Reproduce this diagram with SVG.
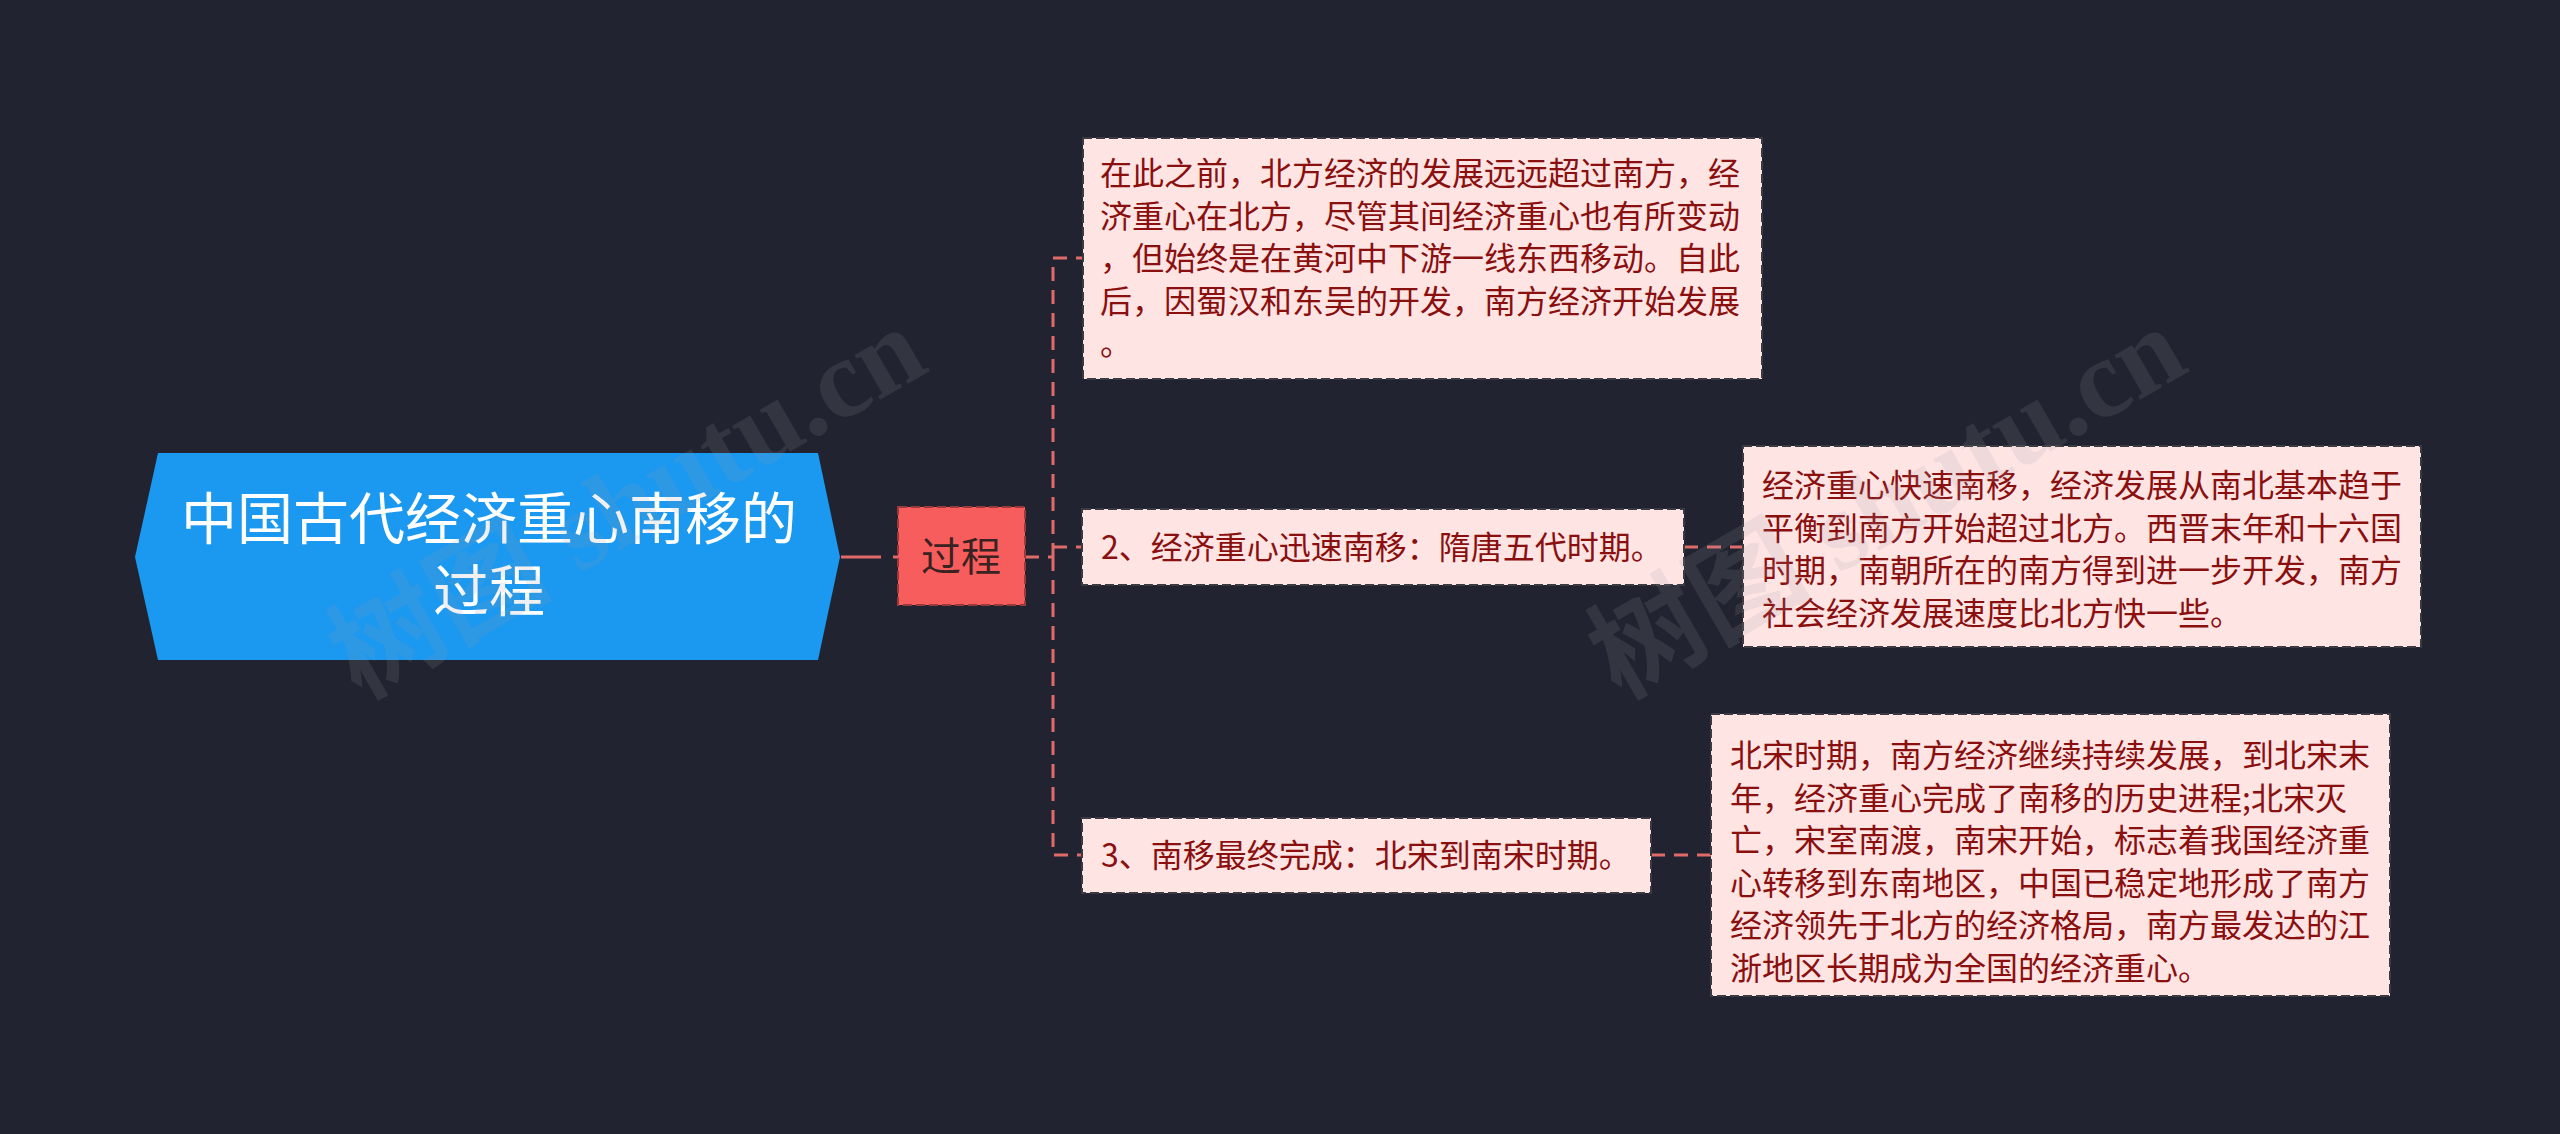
<svg xmlns="http://www.w3.org/2000/svg" width="2560" height="1134" viewBox="0 0 2560 1134">
<style>
.cjk{font-family:"Noto Sans CJK SC","Noto Sans",sans-serif}
.leaf rect{fill:#ffe4e4;stroke:#3a3a40;stroke-width:2;stroke-dasharray:9 4}
.leaf text{font-size:32px;fill:#8a0f0f}
.conn path{fill:none;stroke:#e06a6a;stroke-width:3;stroke-dasharray:14 9}
.wm{font-family:"Liberation Serif","Noto Sans CJK SC",serif;font-size:112px;font-weight:bold;fill:#9a9aa8;fill-opacity:0.15}
</style>
<rect x="0" y="0" width="2560" height="1134" fill="#212430"/>
<g id="connectors" class="conn">
<path d="M841,557 H898" style="stroke-dasharray:40 12"/>
<path d="M1025,557 H1053"/>
<path d="M1053,557 V258 H1083"/>
<path d="M1053,547 H1082"/>
<path d="M1053,557 V855 H1082"/>
<path d="M1684,547 H1743"/>
<path d="M1651,855 H1711"/>
</g>
<g id="root">
<polygon points="135,557 158,453 818,453 840,557 818,660 158,660" fill="#1b98ef"/>
<text class="cjk" x="489" y="539" text-anchor="middle" font-size="56" fill="#ffffff">中国古代经济重心南移的</text>
<text class="cjk" x="489" y="611" text-anchor="middle" font-size="56" fill="#ffffff">过程</text>
</g>
<g id="n-process">
<rect x="898" y="507" width="127" height="98" fill="#f75d5d" stroke="#9b3a3a" stroke-width="2" stroke-dasharray="9 4"/>
<text class="cjk" x="961" y="571" text-anchor="middle" font-size="40" fill="#3a2222">过程</text>
</g>
<g id="n-before" class="leaf cjk">
<rect x="1083" y="138" width="679" height="241"/>
<text x="1100" y="185">在此之前，北方经济的发展远远超过南方，经</text>
<text x="1100" y="227.5">济重心在北方，尽管其间经济重心也有所变动</text>
<text x="1100" y="270">，但始终是在黄河中下游一线东西移动。自此</text>
<text x="1100" y="312.5">后，因蜀汉和东吴的开发，南方经济开始发展</text>
<text x="1100" y="355">。</text>
</g>
<g id="n-stage2" class="leaf cjk">
<rect x="1082" y="509" width="602" height="76"/>
<text x="1101" y="559">2、经济重心迅速南移：隋唐五代时期。</text>
</g>
<g id="n-stage2-detail" class="leaf cjk">
<rect x="1743" y="446" width="678" height="201"/>
<text x="1762" y="497">经济重心快速南移，经济发展从南北基本趋于</text>
<text x="1762" y="539.5">平衡到南方开始超过北方。西晋末年和十六国</text>
<text x="1762" y="582">时期，南朝所在的南方得到进一步开发，南方</text>
<text x="1762" y="624.5">社会经济发展速度比北方快一些。</text>
</g>
<g id="n-stage3" class="leaf cjk">
<rect x="1082" y="818" width="569" height="75"/>
<text x="1101" y="867">3、南移最终完成：北宋到南宋时期。</text>
</g>
<g id="n-stage3-detail" class="leaf cjk">
<rect x="1711" y="714" width="679" height="282"/>
<text x="1730" y="767">北宋时期，南方经济继续持续发展，到北宋末</text>
<text x="1730" y="809.5">年，经济重心完成了南移的历史进程;北宋灭</text>
<text x="1730" y="852">亡，宋室南渡，南宋开始，标志着我国经济重</text>
<text x="1730" y="894.5">心转移到东南地区，中国已稳定地形成了南方</text>
<text x="1730" y="937">经济领先于北方的经济格局，南方最发达的江</text>
<text x="1730" y="979.5">浙地区长期成为全国的经济重心。</text>
</g>
<g id="watermarks">
<text class="wm" transform="translate(360,700) rotate(-30)">树图 shutu.cn</text>
<text class="wm" transform="translate(1620,700) rotate(-30)">树图 shutu.cn</text>
</g>
</svg>
